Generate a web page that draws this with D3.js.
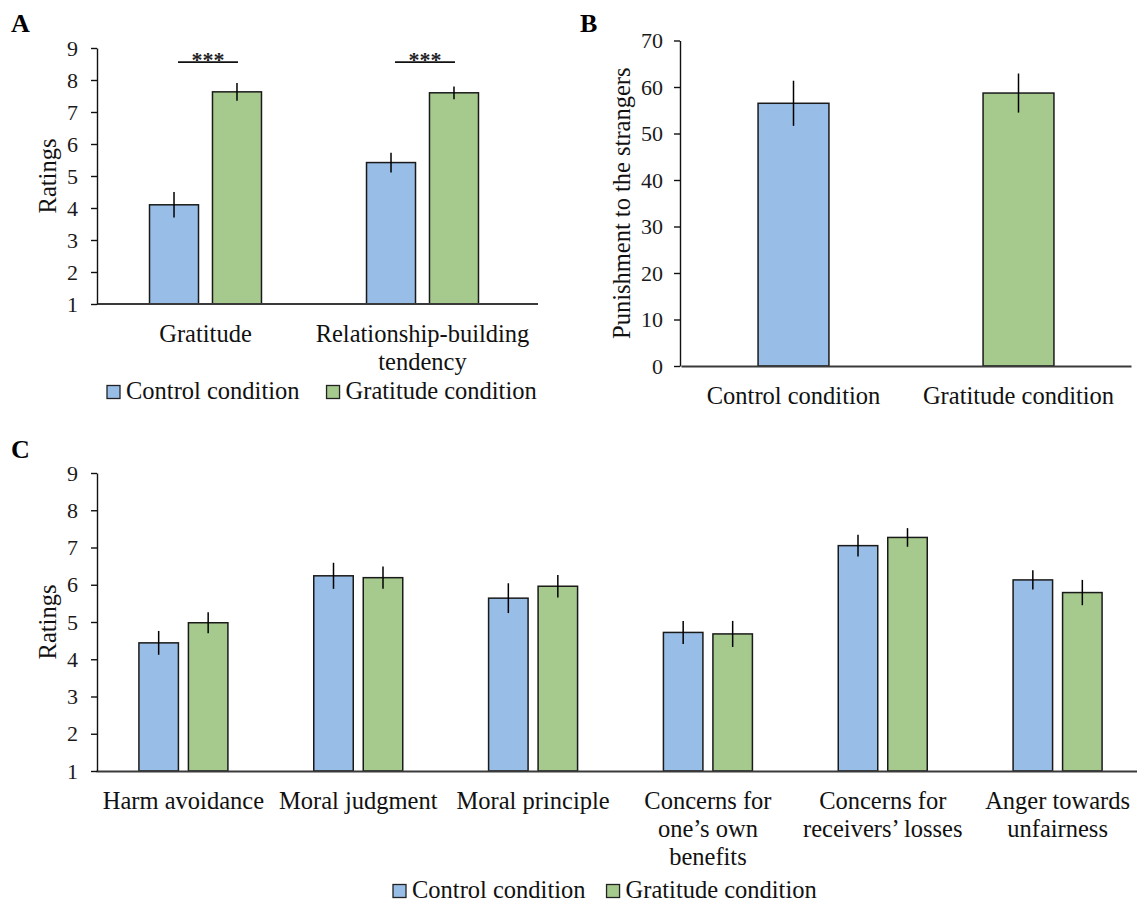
<!DOCTYPE html>
<html lang="en">
<head>
<meta charset="utf-8">
<title>Gratitude, punishment and moral ratings</title>
<script src="https://cdn.jsdelivr.net/npm/d3@7"></script>
<style>
  body { margin: 0; background: #fff; }
  svg { display: block; font-family: "Liberation Serif", "Times New Roman", serif; }
  .yaxis path, .yaxis line { stroke: #111; stroke-width: 1.4px; }
  .xaxis path { stroke: #3a3a3a; stroke-width: 2px; }
  .bar { stroke: #1a1a1a; stroke-width: 1.5px; }
  .err { stroke: #000; stroke-width: 1.5px; }
  .label { font-size: 24.5px; fill: #111; }
  .panel { font-size: 26px; font-weight: bold; fill: #000; }
</style>
</head>
<body>
<script>
// series shared by all three panels
var series = ["Control condition", "Gratitude condition"];
var colors = ["#98bde6", "#a6ca8d"];

// Panel A
var catsA = ["Gratitude", "Relationship-building\ntendency"];
var controlA = [4.1, 5.42];
var gratitudeA = [7.63, 7.6];
var controlErrA = [0.4, 0.31];
var gratitudeErrA = [0.28, 0.2];
var sigA = ["***", "***"];
var ticksA = [1, 2, 3, 4, 5, 6, 7, 8, 9];

// Panel B
var catsB = ["Control condition", "Gratitude condition"];
var valuesB = [56.5, 58.7];
var errB = [4.85, 4.2];
var ticksB = [0, 10, 20, 30, 40, 50, 60, 70];

// Panel C
var catsC = ["Harm avoidance", "Moral judgment", "Moral principle",
             "Concerns for\none\u2019s own\nbenefits", "Concerns for\nreceivers\u2019 losses",
             "Anger towards\nunfairness"];
var controlC = [4.44, 6.24, 5.64, 4.72, 7.05, 6.13];
var gratitudeC = [4.98, 6.19, 5.96, 4.68, 7.27, 5.79];
var controlErrC = [0.32, 0.35, 0.40, 0.31, 0.29, 0.26];
var gratitudeErrC = [0.28, 0.30, 0.30, 0.35, 0.25, 0.34];
var ticksC = [1, 2, 3, 4, 5, 6, 7, 8, 9];

var w = 1137;
var h = 903;

var svg = d3.select("body")
            .append("svg")
            .attr("width", w)
            .attr("height", h);

svg.append("rect").attr("width", w).attr("height", h).attr("fill", "#fff");

//y axis with outward ticks
function drawYAxis(y, ticks, xPos, padding) {
    var g = svg.append("g")
        .attr("class", "yaxis")
        .attr("transform", "translate(" + xPos + ",0)")
        .call(d3.axisLeft(y).tickValues(ticks).tickSize(6).tickSizeOuter(0).tickPadding(padding));
    g.attr("font-size", 22).attr("font-family", "Liberation Serif, serif");
    g.selectAll(".tick text").attr("fill", "#1a1a1a");
}

//x axis line plus (multi-line) category labels
function drawXAxis(x, yPos, extendTo) {
    var g = svg.append("g")
        .attr("class", "xaxis")
        .attr("transform", "translate(0," + yPos + ")")
        .call(d3.axisBottom(x).tickSize(0).tickSizeOuter(0));
    g.attr("font-size", 24.5).attr("font-family", "Liberation Serif, serif");
    if (extendTo) {
        g.select(".domain").attr("d", "M" + x.range()[0] + ",0H" + extendTo);
    }
    g.selectAll(".tick text").attr("fill", "#111").each(function(d) {
        var lines = d.split("\n");
        var t = d3.select(this).text(null).attr("dy", null).attr("y", null);
        lines.forEach(function(line, i) {
            t.append("tspan").attr("x", 0).attr("y", 38 + i * 28).text(line);
        });
    });
}

function drawLegend(xStart, yBase, gap) {
    var cx = xStart;
    series.forEach(function(s, i) {
        svg.append("rect")
            .attr("x", cx).attr("y", yBase - 13.5)
            .attr("width", 13).attr("height", 13)
            .attr("fill", colors[i])
            .attr("stroke", "#222").attr("stroke-width", 1.3);
        var t = svg.append("text")
            .attr("class", "label")
            .attr("x", cx + 19).attr("y", yBase)
            .text(s);
        cx = cx + 19 + t.node().getComputedTextLength() + gap;
    });
}

//grouped bar chart (panels A and C)
function drawGrouped(cats, vals, errs, yScale, xRange, pOuter, pInner) {
    var x0 = d3.scaleBand().domain(cats).range(xRange)
               .paddingInner(pOuter).paddingOuter(pOuter / 2);
    var x1 = d3.scaleBand().domain(series).range([0, x0.bandwidth()])
               .paddingInner(pInner).paddingOuter(0);
    var base = yScale.domain()[0];
    series.forEach(function(s, si) {
        svg.selectAll(null)
            .data(cats)
            .enter()
            .append("rect")
            .attr("class", "bar")
            .attr("x", function(d) { return x0(d) + x1(s); })
            .attr("y", function(d, i) { return yScale(vals[si][i]); })
            .attr("width", x1.bandwidth())
            .attr("height", function(d, i) { return yScale(base) - yScale(vals[si][i]); })
            .attr("fill", colors[si]);
        svg.selectAll(null)
            .data(cats)
            .enter()
            .append("line")
            .attr("class", "err")
            .attr("x1", function(d) { return x0(d) + x1(s) + x1.bandwidth() / 2; })
            .attr("x2", function(d) { return x0(d) + x1(s) + x1.bandwidth() / 2; })
            .attr("y1", function(d, i) { return yScale(vals[si][i] + errs[si][i]); })
            .attr("y2", function(d, i) { return yScale(vals[si][i] - errs[si][i]); });
    });
    return { x0: x0, x1: x1 };
}

// ---------- Panel A ----------
var yA = d3.scaleLinear().domain([1, 9]).range([304, 48]);
var sA = drawGrouped(catsA, [controlA, gratitudeA], [controlErrA, gratitudeErrA],
                     yA, [97, 531], 0.484, 0.222);

//significance brackets
catsA.forEach(function(c, i) {
    var xa = sA.x0(c) + sA.x1(series[0]) + sA.x1.bandwidth() / 2 + 4;
    var xb = sA.x0(c) + sA.x1(series[1]) + sA.x1.bandwidth() / 2 + 1;
    svg.append("line")
        .attr("x1", xa).attr("x2", xb)
        .attr("y1", yA(8.56)).attr("y2", yA(8.56))
        .attr("stroke", "#111").attr("stroke-width", 1.6);
    svg.append("text")
        .attr("x", (xa + xb) / 2).attr("y", yA(8.56) + 5)
        .attr("text-anchor", "middle")
        .attr("font-size", "22px").attr("font-weight", "bold").attr("fill", "#222")
        .text(sigA[i]);
});

drawXAxis(sA.x0, yA(1), 538);
drawYAxis(yA, ticksA, 97, 13);

svg.append("text").attr("class", "label")
    .attr("transform", "translate(56," + ((yA(1) + yA(9)) / 2) + ") rotate(-90)")
    .attr("text-anchor", "middle").text("Ratings");
drawLegend(107, 399, 27);
svg.append("text").attr("class", "panel").attr("x", 11).attr("y", 32).text("A");

// ---------- Panel B ----------
var yB = d3.scaleLinear().domain([0, 70]).range([366, 40.5]);
var xB = d3.scaleBand().domain(catsB).range([681, 1131]).paddingInner(0.685).paddingOuter(0.685 / 2);

svg.selectAll(null)
    .data(catsB)
    .enter()
    .append("rect")
    .attr("class", "bar")
    .attr("x", function(d) { return xB(d); })
    .attr("y", function(d, i) { return yB(valuesB[i]); })
    .attr("width", xB.bandwidth())
    .attr("height", function(d, i) { return yB(0) - yB(valuesB[i]); })
    .attr("fill", function(d, i) { return colors[i]; });

svg.selectAll(null)
    .data(catsB)
    .enter()
    .append("line")
    .attr("class", "err")
    .attr("x1", function(d) { return xB(d) + xB.bandwidth() / 2; })
    .attr("x2", function(d) { return xB(d) + xB.bandwidth() / 2; })
    .attr("y1", function(d, i) { return yB(valuesB[i] + errB[i]); })
    .attr("y2", function(d, i) { return yB(valuesB[i] - errB[i]); });

drawXAxis(xB, yB(0));
drawYAxis(yB, ticksB, 680, 11);

svg.append("text").attr("class", "label")
    .attr("transform", "translate(630," + ((yB(0) + yB(70)) / 2) + ") rotate(-90)")
    .attr("text-anchor", "middle").text("Punishment to the strangers");
svg.append("text").attr("class", "panel").attr("x", 580).attr("y", 32).text("B");

// ---------- Panel C ----------
var yC = d3.scaleLinear().domain([1, 9]).range([771, 473]);
var sC = drawGrouped(catsC, [controlC, gratitudeC], [controlErrC, gratitudeErrC],
                     yC, [96, 1145], 0.491, 0.202);

drawXAxis(sC.x0, yC(1));
drawYAxis(yC, ticksC, 97, 13);

svg.append("text").attr("class", "label")
    .attr("transform", "translate(56," + ((yC(1) + yC(9)) / 2) + ") rotate(-90)")
    .attr("text-anchor", "middle").text("Ratings");
drawLegend(393, 898, 21);
svg.append("text").attr("class", "panel").attr("x", 11).attr("y", 458).text("C");
</script>
</body>
</html>
